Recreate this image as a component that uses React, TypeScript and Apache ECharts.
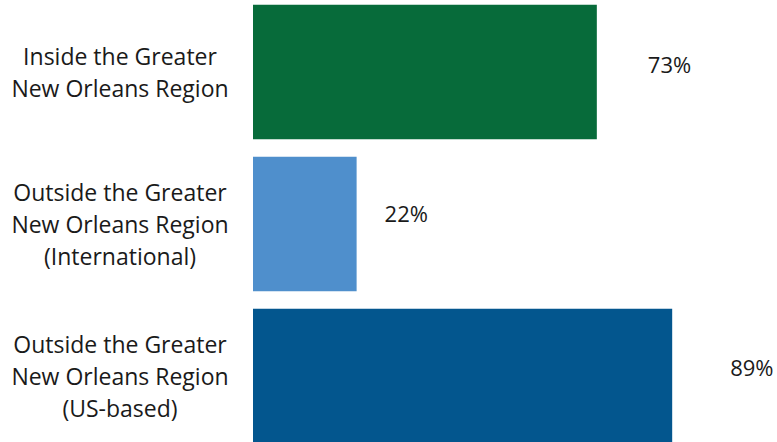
import React, { useEffect, useRef } from "react";
import * as echarts from "echarts";

const categories = [
  "Inside the Greater\nNew Orleans Region",
  "Outside the Greater\nNew Orleans Region\n(International)",
  "Outside the Greater\nNew Orleans Region\n(US-based)",
];
const values = [73, 22, 89];
const valueLabels = ["73%", "22%", "89%"];
const barColors = ["#076B3A", "#4F8FCC", "#03568E"];
const labelDistances = [51, 28, 58];
const labelOffsetsY = [-8, -11, -9];

export default function App() {
  const ref = useRef<HTMLDivElement>(null);
  useEffect(() => {
    document.body.style.margin = "0";
    document.body.style.overflow = "hidden";
    if (!ref.current) return;
    const chart = echarts.init(ref.current, undefined, { renderer: "svg" });
    chart.setOption({
      animation: false,
      grid: { left: 253, right: 53, top: 0, bottom: 0, containLabel: false },
      xAxis: {
        type: "value",
        min: 0,
        max: 100,
        show: false,
      },
      yAxis: {
        type: "category",
        data: categories,
        inverse: true,
        axisLine: { show: false },
        axisTick: { show: false },
        splitLine: { show: false },
        axisLabel: {
          align: "center",
          margin: 133,
          padding: [6, 0, 0, 0],
          fontFamily: "Open Sans",
          fontSize: 23,
          lineHeight: 32,
          color: "#1a1a1a",
        },
      },
      series: [
        {
          type: "bar",
          barCategoryGap: "11.5%",
          data: values.map((v, i) => ({
            value: v,
            itemStyle: { color: barColors[i] },
            label: {
              show: true,
              position: "right",
              distance: labelDistances[i],
              offset: [0, labelOffsetsY[i]],
              formatter: () => valueLabels[i],
              fontFamily: "Open Sans",
              fontSize: 22,
              color: "#1a1a1a",
            },
          })),
        },
      ],
    });
    return () => chart.dispose();
  }, []);
  return (
    <div
      ref={ref}
      style={{ position: "absolute", left: 0, top: -4, width: 777, height: 456 }}
    />
  );
}
